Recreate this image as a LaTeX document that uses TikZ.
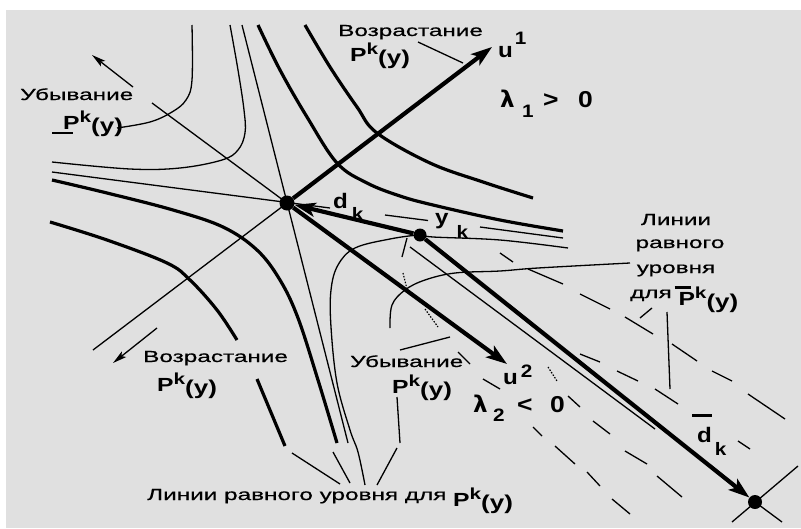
\documentclass[tikz,border=0pt]{standalone}
\usepackage{fontspec}
\setmainfont{Liberation Sans}
\newfontfamily\wf[FakeStretch=1.52,FakeBold=0.6]{Liberation Sans}
\newfontfamily\pkf[FakeStretch=1.3]{Liberation Sans}
\newfontfamily\mf[FakeStretch=1.15]{Liberation Sans}
\newfontfamily\lf{DejaVu Sans}
\usetikzlibrary{arrows.meta}
\definecolor{bg}{RGB}{224,224,224}
\newcommand\PKcore{P\raisebox{7pt}{\fontsize{16}{16}\selectfont k}\raisebox{-3pt}{\fontsize{20}{20}\selectfont (y)}}
\newcommand\PK{{\pkf\bfseries\fontsize{19}{19}\selectfont\PKcore}}
\newcommand\PKbar{{\pkf\bfseries\fontsize{19}{19}\selectfont\makebox[0pt][l]{\hspace{-4pt}\rule[16pt]{16pt}{2.6pt}}\PKcore}}
\newcommand\BB[1]{{\mf\bfseries\fontsize{21}{21}\selectfont #1}}
\newcommand\SB[1]{{\mf\bfseries\fontsize{18}{18}\selectfont #1}}
\newcommand\BN[1]{{\mf\bfseries\fontsize{23}{23}\selectfont #1}}
\newcommand\LAM{{\lf\bfseries\fontsize{23}{23}\selectfont λ}}
\begin{document}
\begin{tikzpicture}[x=1pt,y=-1pt,
  thinl/.style={line width=1.3pt},
  thickc/.style={line width=3.2pt},
  vec/.style={line width=4.2pt,-{Stealth[length=21pt,width=14pt,inset=5pt]}},
  sarrow/.style={line width=1.3pt,-{Stealth[length=14pt,width=7pt,inset=3pt]}},
  dotn/.style={circle,fill=black,inner sep=0pt,minimum size=#1},
  lbl/.style={inner sep=0pt,font=\wf\fontsize{16}{16}\selectfont},
  mlbl/.style={inner sep=0pt},
  dots/.style={line width=1.2pt,dash pattern=on 1.5pt off 1.5pt}]
% background
\fill[white] (0,0) rectangle (801,528);
\fill[bg] (6,10) rectangle (801,528);
\useasboundingbox (0,0) rectangle (801,528);

% points
\node[dotn=15pt] (s) at (287,203) {};
\node[dotn=13pt] (y) at (420,235) {};
\node[dotn=14pt] (e) at (755,502) {};
\coordinate (u1) at (492,47);
\coordinate (u2) at (507,364);

% asymptotes and axes (thin)
\draw[thinl] (242,25) -- (348,443);
\draw[thinl] (52,172) -- (330,208);
\draw[thinl] (385,215) -- (428,220.5);
\draw[thinl] (480,227) -- (563,238);
\draw[thinl] (93,350) -- (s.center);
\draw[thinl] (152,103) -- (s.center);
\draw[sarrow] (133,87) -- (92,55);
\draw[sarrow] (157,328) -- (113,363);

% thin level curves
\draw[thinl] plot[smooth,tension=0.6] coordinates {(192,25) (192,80) (186,100) (172,112) (150,122) (117,128)};
\draw[thinl] (52,133) -- (73,133);
\draw[thinl] plot[smooth,tension=0.6] coordinates {(230,25) (238,70) (244,110) (245,133) (238,150) (222,160) (180,168) (130,169) (52,162)};
\draw[thinl] plot[smooth,tension=0.6] coordinates {(568,248) (500,240) (433,237) (420,235) (390,239) (355,248) (338,265) (331,290) (331,327) (337,383) (350,430) (358,452) (365,485)};
\draw[thinl] plot[smooth,tension=0.6] coordinates {(390,328) (392,305) (405,290) (425,280) (455,273) (500,271) (538,268) (630,263)};
\draw[thinl] (397,397) -- (400,443);
\draw[thinl] (397,448) -- (377,485);
\draw[thinl] (407,238) -- (402,257);

% leaders
\draw[thinl] (418,42) -- (463,63);
\draw[thinl] (400,350) -- (450,337);
\draw[thinl] (292,453) -- (340,484);
\draw[thinl] (333,452) -- (350,483);
\draw[thinl] (652,308) -- (640,318);
\draw[thinl] (667,312) -- (670,389);

% thin line along d-bar and cross at end point
\draw[thinl] (410,247) -- (655,429);
\draw[thinl] (798,466) -- (732,522);
\draw[thinl] (782,522) -- (e.center);

% level lines of P-bar (broken)
\foreach \xa/\ya/\xb/\yb in {500/253/513/262,528/269/563/284,580/294/610/309,
  625/317/653/334,672/344/697/361,712/371/732/381,748/394/785/419,
  580/354/600/362,617/371/638/381,655/389/678/404,738/441/750/449,
  593/421/610/434,625/451/647/464,657/476/682/497,555/446/575/464,
  587/472/600/486,612/499/630/514,533/427/542/436,568/396/580/407,
  483/379/500/389,458/352/470/364}
  \draw[thinl] (\xa,\ya) -- (\xb,\yb);
\draw[dots] (548,367) -- (557,381);
\draw[dots] (425,309) -- (438,327);
\draw[dots] (403,273) -- (408,293);

% thick level curves
\draw[thickc] plot[smooth,tension=0.6] coordinates {(258,25) (280,70) (307,117) (337,163) (367,183) (400,196) (433,205) (500,220) (563,231)};
\draw[thickc] plot[smooth,tension=0.6] coordinates {(305,25) (330,67) (357,107) (377,133) (430,163) (483,182) (533,198)};
\draw[thickc] plot[smooth,tension=0.6] coordinates {(52,180) (107,193) (173,210) (223,227) (257,250) (280,280) (298,318) (318,380) (337,443)};
\draw[thickc] plot[smooth,tension=0.6] coordinates {(50,222) (107,240) (167,263) (190,280) (217,310) (237,340)};
\draw[thickc] (257,379) -- (285,446);

% vectors
\draw[vec] (s) -- (u1);
\draw[vec] (s) -- (u2);
\draw[vec] (y) -- (s);
\draw[vec] (y) -- (e);

% labels
\node[lbl,anchor=base west] (tVoz) at (338,36) {Возрастание};
\node[mlbl,anchor=base west] (tP) at (350,61) {\PK};
\node[lbl,anchor=base west] (lUb) at (20,100) {Убывание};
\node[mlbl,anchor=base west] (lP) at (63,129) {\PK};
\node[lbl,anchor=base west] (bVoz) at (143,362) {Возрастание};
\node[mlbl,anchor=base west] (bP) at (157,391) {\PK};
\node[lbl,anchor=base west] (mUb) at (350,367) {Убывание};
\node[mlbl,anchor=base west] (mP) at (392,393) {\PK};
\node[lbl,anchor=base] (r1) at (676,225) {Линии};
\node[lbl,anchor=base] (r2) at (680,248) {равного};
\node[lbl,anchor=base] (r3) at (676,273) {уровня};
\node[lbl,anchor=base west] (r4) at (630,298) {для \raisebox{-7pt}{\PKbar}};
\node[lbl,anchor=base west] (bot) at (147,500) {Линии равного уровня для \raisebox{-6pt}{\PK}};

\node[mlbl,anchor=base west] (lu1) at (498,57) {\BB{u}\hspace{2pt}\raisebox{13pt}{\SB{1}}};
\node[mlbl,anchor=base west] (lu2) at (503,384) {\BB{u}\hspace{3pt}\raisebox{7pt}{\SB{2}}};
\node[mlbl,anchor=base west] (lam1) at (500,107) {\makebox[22pt][l]{\LAM}\makebox[21pt][l]{\raisebox{-10pt}{\SB{1}}}\makebox[35pt][l]{\BN{>}}\BN{0}};
\node[mlbl,anchor=base west] (lam2) at (473,412) {\makebox[20pt][l]{\LAM}\makebox[24pt][l]{\raisebox{-9pt}{\SB{2}}}\makebox[33pt][l]{\BN{<}}\BN{0}};
\node[mlbl,anchor=base west] (ldk) at (333,208) {\BB{d}\hspace{4pt}\raisebox{-12pt}{\SB{k}}};
\node[mlbl,anchor=base west] (lyk) at (435,224) {\BB{y}\hspace{8pt}\raisebox{-14pt}{\SB{k}}};
\node[mlbl,anchor=base west] (ldbk) at (697,442) {\makebox[0pt][l]{\hspace{-5pt}\rule[25pt]{20pt}{3pt}}\BB{d}\hspace{3pt}\raisebox{-13pt}{\SB{k}}};
\end{tikzpicture}
\end{document}
